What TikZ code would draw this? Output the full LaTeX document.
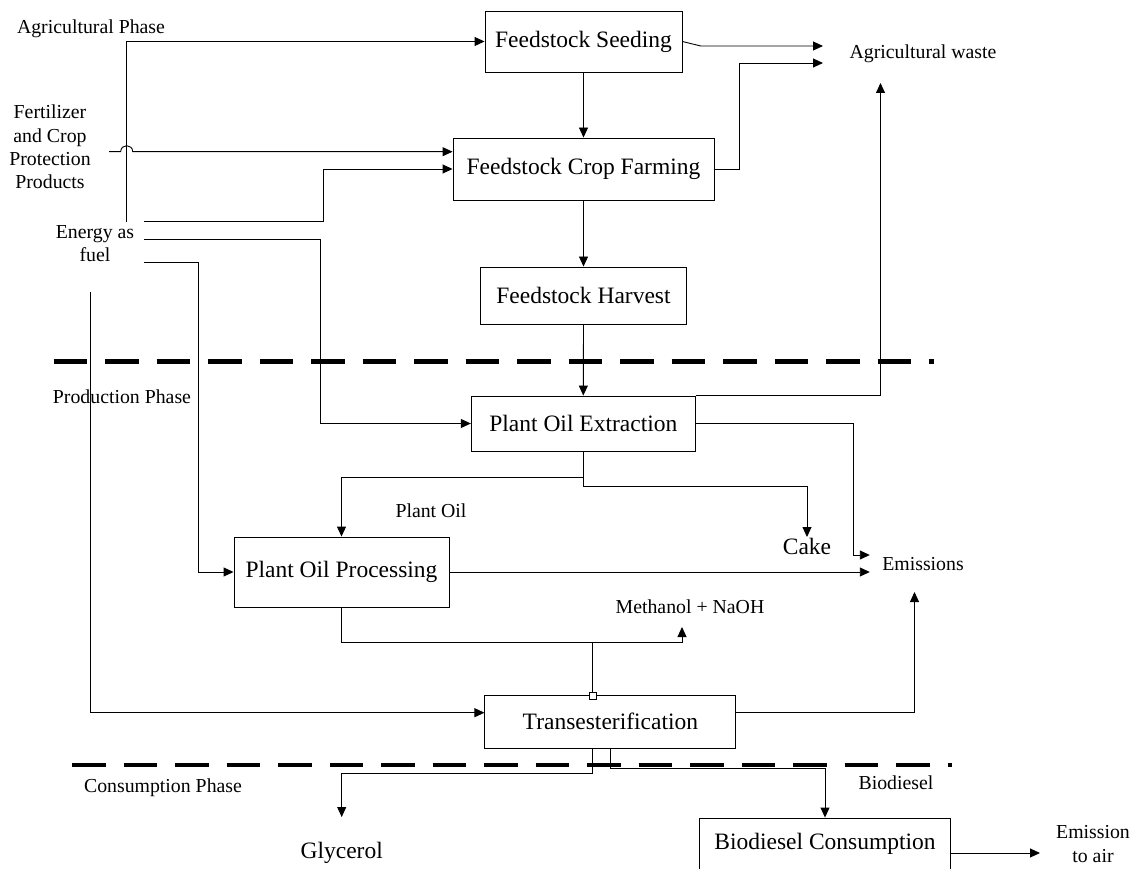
\documentclass[tikz,border=0pt]{standalone}
\usepackage{fontspec}
\setmainfont{Liberation Serif}
\usetikzlibrary{arrows.meta}
\begin{document}
\begin{tikzpicture}[x=1pt,y=-1pt,
  line width=0.9pt,
  arr/.style={-{Triangle[length=10pt,width=9pt]}},
  box/.style={draw,rectangle,inner sep=0pt,font=\fontsize{23.5}{28}\selectfont},
  big/.style={inner sep=0pt,font=\fontsize{23.5}{28}\selectfont},
  small/.style={inner sep=0pt,font=\fontsize{19.8}{23.3}\selectfont,align=center},
  phase/.style={line width=4.5pt,dash pattern=on 33.7pt off 17.8pt}]
\useasboundingbox (0,0) rectangle (1141,869);

% boxes
\node[box,minimum width=197,minimum height=61] (seed) at (583.5,41.5) {Feedstock Seeding};
\node[box,minimum width=261,minimum height=62] (farm) at (583.5,169) {Feedstock Crop Farming};
\node[box,minimum width=206,minimum height=57] (harv) at (583.5,295.5) {Feedstock Harvest};
\node[box,minimum width=224,minimum height=55] (extr) at (583.3,423.5) {Plant Oil Extraction};
\node[box,minimum width=215,minimum height=70] (proc) at (341.5,572) {Plant Oil Processing};
\node[box,minimum width=251,minimum height=53] (trans) at (610.4,721.5) {Transesterification};
\node[box,minimum width=251,minimum height=52] (bcons) at (825,844) {Biodiesel Consumption};

% labels
\node[small] (agph) at (91,29) {Agricultural Phase};
\node[small] (fert) at (50,147) {Fertilizer\\and Crop\\Protection\\Products};
\node[small] (energy) at (95,243.5) {Energy as\\fuel};
\node[small] (agw) at (923,54) {Agricultural waste};
\node[small] (prodph) at (122,397) {Production Phase};
\node[small] (plantoil) at (431,511) {Plant Oil};
\node[big] (cake) at (807,546) {Cake};
\node[small] (emis) at (923,564) {Emissions};
\node[small] (meth) at (690,607) {Methanol + NaOH};
\node[small] (consph) at (163,788) {Consumption Phase};
\node[big] (glyc) at (341.7,853) {Glycerol};
\node[small] (biod) at (896,783) {Biodiesel};
\node[small] (emair) at (1093,844) {Emission\\to air};

% phase separators
\draw[phase] (53.6,361.7) -- (933.5,361.7);
\draw[phase] (72,765) -- (951.5,765);

% free ends
\coordinate (ap0) at (126.7,221.7);
\coordinate (f0) at (109,151.7);
\coordinate (e1) at (144,221);
\coordinate (e2) at (144,239);
\coordinate (e3) at (144,262);
\coordinate (e4) at (90.7,292);
\coordinate (ty) at (0,712.7);
\coordinate (aw1) at (823,46);
\coordinate (aw2) at (823,63);
\coordinate (aw3) at (880.5,83);
\coordinate (em1) at (869.8,555);
\coordinate (em2) at (869.8,572);
\coordinate (em3) at (914.5,592);
\coordinate (ck) at (807,537);
\coordinate (mt) at (682,627);
\coordinate (gl) at (341.7,817);
\coordinate (ea) at (1040,853);

% inputs
\draw[arr] (ap0) |- (seed.west);
\draw[arr] (f0) -- (120.7,151.7) .. controls (120.7,143.7) and (132.7,143.7) .. (132.7,151.7) -- (f0 -| farm.west);
\draw[arr] (e1) -| (323,169) -- (farm.west);
\draw[arr] (e2) -| (320.7,423.5) -- (extr.west);
\draw[arr] (e3) -| (198,572) -- (proc.west);
\draw[arr] (e4) |- (trans.west |- ty);

% main flow
\draw[arr] (seed.south) -- (farm.north);
\draw[arr] (farm.south) -- (harv.north);
\draw[arr] (harv.south) -- (extr.north);

% agricultural waste
\draw[arr] (seed.east) -- (700.7,46) -- (aw1);
\draw[arr] (farm.east) -| (739.7,63) -- (aw2);
\draw[arr] (extr.north east) -| (aw3);

% emissions
\draw[arr] (extr.east) -| (853.4,555) -- (em1);
\draw[arr] (proc.east) -- (em2);
\draw[arr] (trans.east |- ty) -| (em3);

% extraction outputs
\draw[arr] (extr.south) -- (583.3,477) -| (proc.north);
\draw[arr] (extr.south) -- (583.3,486) -| (ck);

% processing to transesterification / methanol
\draw[arr] (proc.south) |- (682,642) -- (mt);
\node[draw,fill=white,minimum size=7pt,inner sep=0pt,line width=0.7pt] (sq) at (592.5,695.5) {};
\draw (592.5,642) -- (sq.north);

% transesterification outputs
\draw[arr] (592.2,748) |- (341.7,773) -- (gl);
\draw[arr] (trans.south) |- (825,768) -- (bcons.north);
\draw[arr] (bcons.east |- ea) -- (ea);
\end{tikzpicture}
\end{document}
